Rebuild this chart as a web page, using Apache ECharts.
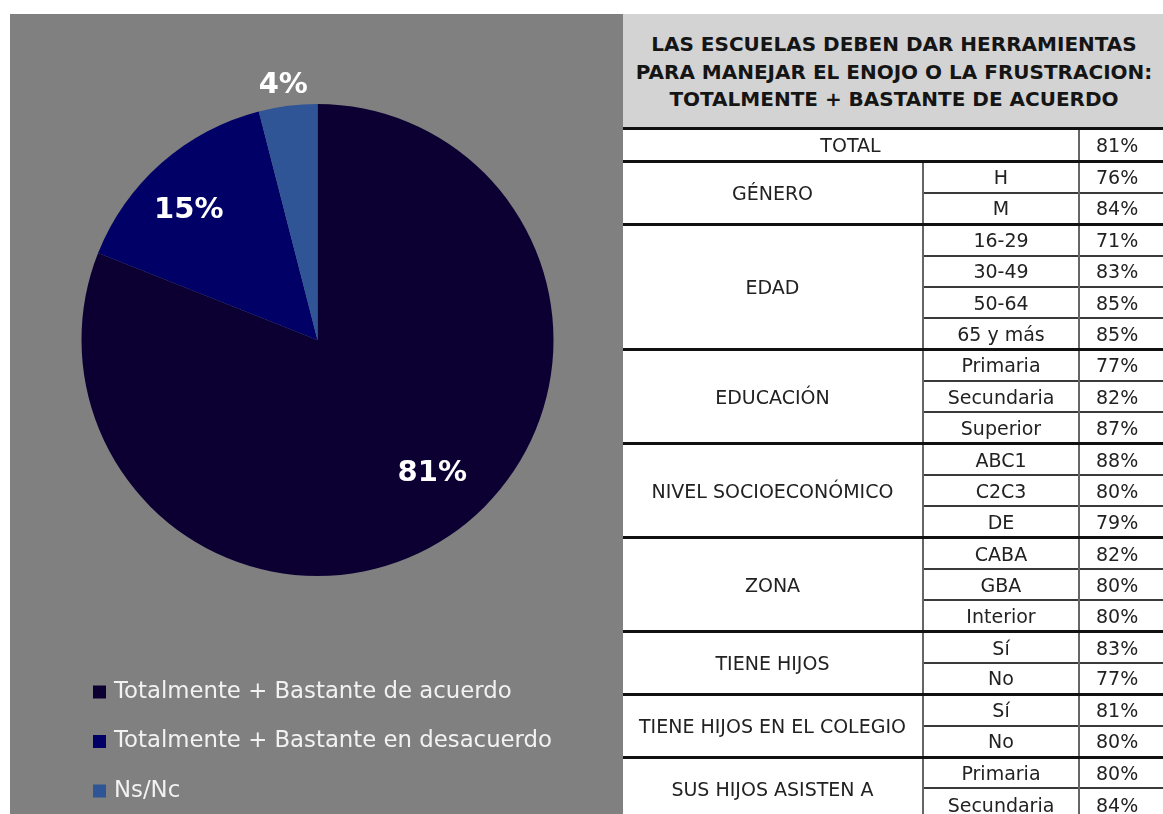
<!DOCTYPE html>
<html>
<head>
<meta charset="utf-8">
<script src="https://cdn.jsdelivr.net/npm/echarts@6/dist/echarts.min.js"></script>
<style>
  html, body { margin: 0; padding: 0; background: #fff; }
  body { width: 1163px; height: 814px; position: relative; overflow: hidden; }
  #chart {
    position: absolute; left: 10px; top: 14px;
    width: 613px; height: 800px; background: #808080;
  }
  #header {
    position: absolute; left: 623px; top: 14px; width: 545px; height: 114px;
    background: #d3d3d3; box-sizing: border-box; padding-top: 17px;
    font-family: "DejaVu Sans", sans-serif; font-weight: bold; font-size: 20px;
    line-height: 27.5px; color: #151515; text-align: center; white-space: nowrap;
    overflow: visible;
  }
  #header div { margin-left: -14px; width: 570px; }
  #tableWrap { position: absolute; left: 623px; top: 127px; width: 560px; }
  table {
    border-collapse: collapse; table-layout: fixed;
    font-family: "DejaVu Sans", sans-serif; font-size: 19px; color: #222;
  }
  td {
    text-align: center; vertical-align: middle; padding: 0;
    border-top: 2px solid #3a3a3a; border-left: 2px solid #666;
    white-space: nowrap; overflow: hidden;
  }
  td.val { text-align: left; padding-left: 16px; }
  tr { height: 31.35px; }
  tr.grp td { border-top: 3px solid #111; }
  td.first { border-left: 0; }
</style>
</head>
<body>
<div id="chart"></div>
<div id="header"></div>
<div id="tableWrap"></div>
<script>
// pie
const pieNames = ['Totalmente + Bastante de acuerdo', 'Totalmente + Bastante en desacuerdo', 'Ns/Nc'];
const pieValues = [81, 15, 4];
const pieColors = ['#0c0033', '#000066', '#2f5597'];

// tabla
const titleLines = [
  'LAS ESCUELAS DEBEN DAR HERRAMIENTAS',
  'PARA MANEJAR EL ENOJO O LA FRUSTRACION:',
  'TOTALMENTE + BASTANTE DE ACUERDO'
];
const totalLabel = 'TOTAL';
const totalValue = 81;
const groups = ['GÉNERO', 'EDAD', 'EDUCACIÓN', 'NIVEL SOCIOECONÓMICO', 'ZONA',
  'TIENE HIJOS', 'TIENE HIJOS EN EL COLEGIO', 'SUS HIJOS ASISTEN A'];
const groupItems = [
  ['H', 'M'],
  ['16-29', '30-49', '50-64', '65 y más'],
  ['Primaria', 'Secundaria', 'Superior'],
  ['ABC1', 'C2C3', 'DE'],
  ['CABA', 'GBA', 'Interior'],
  ['Sí', 'No'],
  ['Sí', 'No'],
  ['Primaria', 'Secundaria']
];
const groupValues = [
  [76, 84],
  [71, 83, 85, 85],
  [77, 82, 87],
  [88, 80, 79],
  [82, 80, 80],
  [83, 77],
  [81, 80],
  [80, 84]
];

// cabecera
document.getElementById('header').innerHTML = titleLines.map(t => '<div>' + t + '</div>').join('');

// armar la tabla
let html = '<table><colgroup><col style="width:300px"><col style="width:156px"><col style="width:104px"></colgroup>';
html += '<tr class="grp" style="height:33px"><td class="first" colspan="2">' + totalLabel + '</td><td class="val">' + totalValue + '%</td></tr>';
groups.forEach((g, gi) => {
  groupItems[gi].forEach((item, i) => {
    html += '<tr' + (i === 0 ? ' class="grp"' : '') + '>';
    if (i === 0) html += '<td class="first" rowspan="' + groupItems[gi].length + '">' + g + '</td>';
    html += '<td>' + item + '</td><td class="val">' + groupValues[gi][i] + '%</td></tr>';
  });
});
html += '</table>';
document.getElementById('tableWrap').innerHTML = html;

const chart = echarts.init(document.getElementById('chart'));

const pieData = pieNames.map((n, i) => ({
  name: n,
  value: pieValues[i],
  itemStyle: { color: pieColors[i] }
}));

const labelFont = {
  color: '#fff',
  fontFamily: 'DejaVu Sans',
  fontWeight: 'bold',
  fontSize: 29
};

chart.setOption({
  animation: false,
  legend: {
    orient: 'vertical',
    left: 83,
    top: 666,
    padding: 0,
    icon: 'rect',
    itemWidth: 13,
    itemHeight: 13,
    itemGap: 25.5,
    data: pieNames,
    textStyle: {
      color: '#f2f2f2',
      fontFamily: 'DejaVu Sans',
      fontSize: 22.8,
      lineHeight: 24,
      padding: [0, 0, 0, 3]
    }
  },
  series: [
    {
      type: 'pie',
      center: [307.5, 326],
      radius: 236,
      startAngle: 90,
      clockwise: true,
      emphasis: { disabled: true },
      labelLayout: { align: 'center' },
      data: pieData.map((d, i) => Object.assign({}, d, {
        label: i === 2
          ? Object.assign({ show: true, position: 'outside', formatter: '{c}%', distanceToLabelLine: 2 }, labelFont)
          : { show: false },
        labelLine: { show: false, length: 21, length2: 0 }
      }))
    },
    {
      // anillo transparente, solo para las etiquetas de adentro
      type: 'pie',
      center: [307.5, 326],
      radius: [120, 236],
      startAngle: 90,
      clockwise: true,
      silent: true,
      emphasis: { disabled: true },
      itemStyle: { color: 'rgba(0,0,0,0)' },
      label: Object.assign({ position: 'inside', formatter: '{c}%' }, labelFont),
      // Excel las acomoda un poco distinto del centro del sector
      labelLayout: p => p.dataIndex === 0 ? { dx: 13, dy: -16 } : { dx: -9, dy: 6 },
      data: pieNames.map((n, i) => ({
        name: n,
        value: pieValues[i],
        label: { show: i !== 2 }
      }))
    }
  ]
});
</script>
</body>
</html>
